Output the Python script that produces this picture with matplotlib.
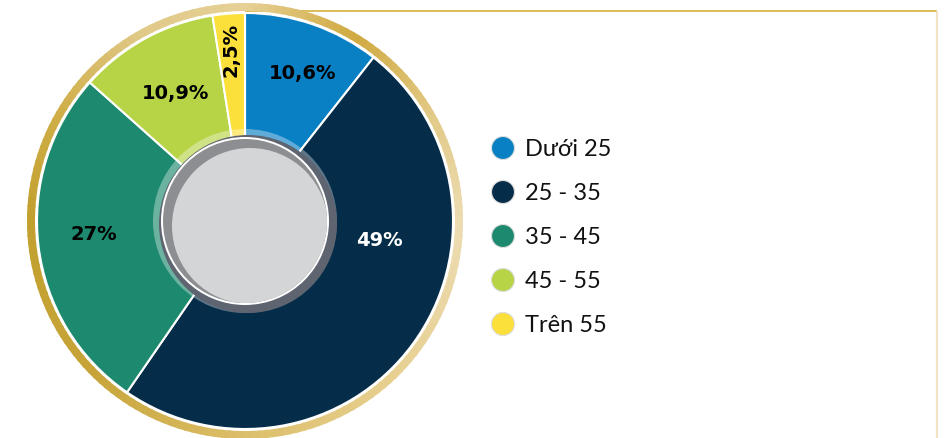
import matplotlib
matplotlib.use("Agg")
import matplotlib.pyplot as plt
from matplotlib.patches import Circle, Wedge
import matplotlib.colors as mcolors
import numpy as np

# ---------------- data ----------------
categories = ["Dưới 25", "25 - 35", "35 - 45", "45 - 55", "Trên 55"]
values = [10.6, 49.0, 27.0, 10.9, 2.5]
value_labels = ["10,6%", "49%", "27%", "10,9%", "2,5%"]
colors = ["#0a80c4", "#052c48", "#1d8a6f", "#b6d445", "#fbe03b"]
label_colors = ["black", "white", "black", "black", "black"]

W, H = 953, 439
fig = plt.figure(figsize=(W / 100, H / 100), dpi=100)
ax = fig.add_axes([0, 0, 1, 1])

cx, cy = 245, H - 222
R = 208

# frame lines (top + right)
ax.plot([cx, 937], [H - 12, H - 12], color="#d8b64c", lw=1.3, zorder=0,
        solid_capstyle="butt")
ax.plot([937, 937], [H - 12, 0], color="#f2e3c6", lw=1.6, zorder=0,
        solid_capstyle="butt")

# gold ring with angular gradient
anchors = [(0, "#ecdcb2"), (30, "#e2c986"), (60, "#d0aa40"), (90, "#e6d095"),
           (120, "#e0c886"), (150, "#cfae48"), (180, "#c2a02e"),
           (225, "#c7a438"), (270, "#dcbf6a"), (315, "#e7d092"), (360, "#ecdcb2")]
angs = np.array([a for a, _ in anchors])
cols = np.array([mcolors.to_rgb(c) for _, c in anchors])
step = 2
for a in np.arange(0, 360, step):
    m = a + step / 2
    col = [np.interp(m, angs, cols[:, k]) for k in range(3)]
    ax.add_patch(Wedge((cx, cy), 218, a - 0.3, a + step + 0.3, width=8,
                       facecolor=col, edgecolor="none", zorder=1))

# pie
wedges, _ = ax.pie(values, colors=colors, startangle=90, counterclock=False,
                   center=(cx, cy), radius=R,
                   wedgeprops=dict(edgecolor="white", linewidth=1.5))
for w in wedges:
    w.set_zorder(2)

# center decoration
ax.add_patch(Wedge((cx, cy), 92, 0, 360, width=9, facecolor="white",
                   alpha=0.35, edgecolor="none", zorder=3))
ax.add_patch(Circle((cx + 3, cy - 3), 89, facecolor="#5e6470",
                    edgecolor="none", zorder=4))
ax.add_patch(Circle((cx, cy), 84, facecolor="white", edgecolor="none", zorder=5))
outer_gray = Circle((cx, cy), 82, facecolor="#8d8e92", edgecolor="none", zorder=6)
ax.add_patch(outer_gray)
inner = Circle((cx + 5, cy - 5), 78, facecolor="#d4d5d7", edgecolor="none", zorder=7)
ax.add_patch(inner)
inner.set_clip_path(outer_gray)

# slice labels
label_pos = [(303, 73), (379, 241), (94, 234), (176, 93), (231, 50)]
rots = [0, 0, 0, 0, 90]
for (x, y), txt, c, r in zip(label_pos, value_labels, label_colors, rots):
    ax.text(x, H - y, txt, color=c, fontsize=14, fontweight="bold",
            family="DejaVu Sans", ha="center", va="center", rotation=r, zorder=8)

# legend
ly0, dy = 149, 44
for i, (cat, col) in enumerate(zip(categories, colors)):
    y = H - (ly0 + i * dy)
    ax.add_patch(Circle((503, y), 11.5, facecolor=col, edgecolor="#dddddd",
                        linewidth=0.8, zorder=8))
    ax.text(525, y, cat, fontsize=17, family="Lato", ha="left", va="center",
            color="#111111", zorder=8)

ax.set_xlim(0, W)
ax.set_ylim(0, H)
ax.set_aspect("auto")
ax.axis("off")
fig.savefig("out.png", dpi=100)
